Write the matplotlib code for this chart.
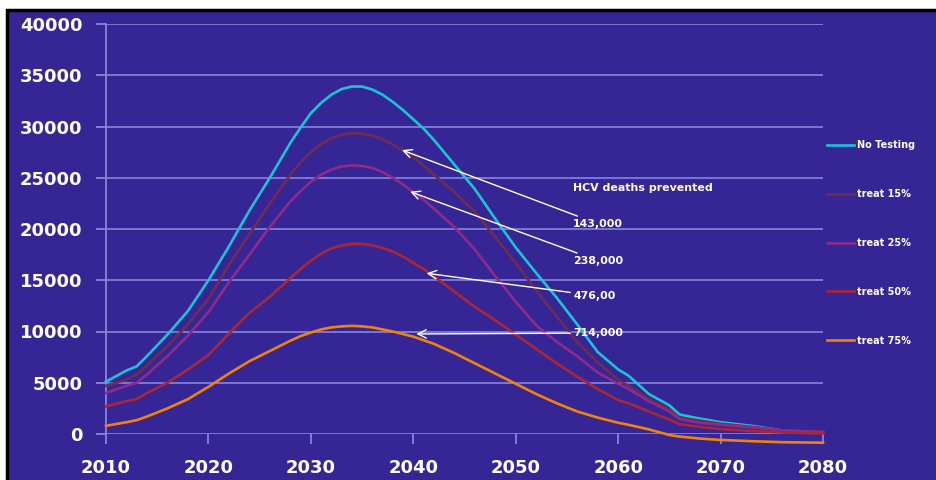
import matplotlib
matplotlib.use("Agg")
import matplotlib.pyplot as plt
from matplotlib.patches import Rectangle

years = [2010, 2012, 2013, 2014, 2016, 2018, 2020, 2022, 2024, 2026,
         2028, 2029, 2030, 2031, 2032, 2033, 2034, 2035, 2036, 2037, 2038, 2039, 2040, 2041, 2042,
         2044, 2046, 2048, 2050, 2052, 2054, 2056, 2058, 2060, 2061, 2063, 2065, 2066, 2068,
         2070, 2073, 2076, 2080]

no_testing = [5100, 6200, 6600, 7600, 9700, 12000, 15000, 18300, 21800, 25000,
              28400, 29900, 31300, 32300, 33100, 33650, 33900, 33900, 33600, 33100, 32400, 31600,
              30700, 29800, 28700,
              26300, 23900, 21000, 18200, 15700, 13300, 10700, 8000, 6300, 5700, 3900, 2800, 1900,
              1500, 1150, 800, 350, 150]
treat15 = [4700, 5300, 5800, 6700, 8600, 10700, 13200, 16500, 19500, 22500,
           25300, 26500, 27500, 28300, 28850, 29200, 29350, 29300, 29100, 28750, 28250, 27650,
           27000, 26200, 25300,
           23600, 21700, 19200, 16700, 14000, 11500, 9000, 7000, 5300, 4700, 3400, 2400, 1600,
           1300, 1000, 700, 350, 200]
treat25 = [4000, 4700, 5000, 5800, 7600, 9600, 11900, 14800, 17500, 20200,
           22700, 23700, 24600, 25300, 25800, 26100, 26200, 26150, 25950, 25550, 25000, 24350,
           23600, 22850, 22000,
           20200, 18000, 15400, 12900, 10600, 9000, 7600, 6000, 4900, 4400, 3200, 2200, 1450,
           1100, 900, 650, 350, 200]
treat50 = [2700, 3200, 3400, 4000, 5000, 6300, 7700, 9800, 11800, 13400,
           15200, 16100, 16900, 17600, 18100, 18400, 18550, 18550, 18400, 18150, 17800, 17300,
           16700, 16100, 15400,
           13900, 12400, 11100, 9700, 8300, 6900, 5600, 4400, 3300, 3000, 2200, 1400, 950,
           700, 480, 300, 150, 50]
treat75 = [800, 1150, 1350, 1700, 2500, 3400, 4600, 5900, 7100, 8100,
           9100, 9550, 9900, 10200, 10400, 10500, 10550, 10500, 10400, 10200, 10000, 9750,
           9500, 9150, 8800,
           7900, 6900, 5900, 4900, 3900, 3000, 2200, 1600, 1100, 900, 450, -100, -250,
           -450, -580, -700, -800, -850]

series_labels = ["No Testing", "treat 15%", "treat 25%", "treat 50%", "treat 75%"]
series_colors = ["#1cc3d4", "#6e2c52", "#8e2a8c", "#a82636", "#f0820e"]

x_ticks = [2010, 2020, 2030, 2040, 2050, 2060, 2070, 2080]
y_ticks = [0, 5000, 10000, 15000, 20000, 25000, 30000, 35000, 40000]

note_title = "HCV deaths prevented"
note_labels = ["143,000", "238,000", "476,00", "714,000"]
note_tips_x = [2038.9, 2039.7, 2041.3, 2040.3]
note_tips_y = [27700, 23640, 15680, 9760]
note_text_x = 2055.6
note_text_y = [20500, 16900, 13500, 9850]
note_title_y = 24000

BG = "#362695"
GRID = "#8585dc"

fig = plt.figure(figsize=(9.37, 4.80), dpi=100)
fig.patch.set_facecolor("white")
bg = Rectangle((7 / 937, -0.05), 1.0, 1.05 - 10 / 480,
               transform=fig.transFigure, facecolor=BG,
               edgecolor="black", linewidth=2.5, zorder=-10)
fig.patches.append(bg)

ax = fig.add_axes([106 / 937, 1 - 434 / 480, (823 - 106) / 937, (434 - 24) / 480])
ax.set_zorder(1)
ax.set_facecolor("none")

for vals, lab, col in zip([no_testing, treat15, treat25, treat50, treat75],
                          series_labels, series_colors):
    ax.plot(years, vals, color=col, lw=1.9, label=lab, clip_on=False, zorder=3,
            solid_joinstyle="round")

ax.set_xlim(2010, 2080)
ax.set_ylim(0, 40000)
ax.set_xticks(x_ticks)
ax.set_yticks(y_ticks)
ax.grid(axis="y", color=GRID, lw=1.2)
ax.set_axisbelow(True)
for s in ["top", "right"]:
    ax.spines[s].set_visible(False)
ax.spines["bottom"].set_visible(False)
ax.spines["left"].set_color(GRID)
ax.spines["left"].set_linewidth(1.3)
ax.tick_params(axis="both", colors=GRID, width=1.3, length=7)
ax.tick_params(axis="y", pad=10)
ax.tick_params(axis="x", pad=11)
for lbl in ax.get_xticklabels() + ax.get_yticklabels():
    lbl.set_color("white")
    lbl.set_fontweight("bold")
    lbl.set_fontsize(13)
    lbl.set_family("DejaVu Sans")

ax.text(note_text_x, note_title_y, note_title, color="white", fontsize=7.9,
        fontweight="bold", ha="left", va="center")
for lab, tx, ty, yt in zip(note_labels, note_tips_x, note_tips_y, note_text_y):
    ax.annotate(lab, xy=(tx, ty), xytext=(note_text_x, yt), color="white",
                fontsize=7.9, fontweight="bold", ha="left", va="center",
                arrowprops=dict(arrowstyle="->", color="white", lw=1.0,
                                shrinkA=0, shrinkB=0, mutation_scale=15))

leg = ax.legend(loc="upper left", bbox_to_anchor=(1.0, 0.726), frameon=False,
                fontsize=7, labelcolor="white", handlelength=2.8,
                labelspacing=4.0, handletextpad=0.3, borderaxespad=0.0)
for t in leg.get_texts():
    t.set_fontweight("bold")

fig.savefig("out.png", dpi=100, facecolor=fig.get_facecolor())
